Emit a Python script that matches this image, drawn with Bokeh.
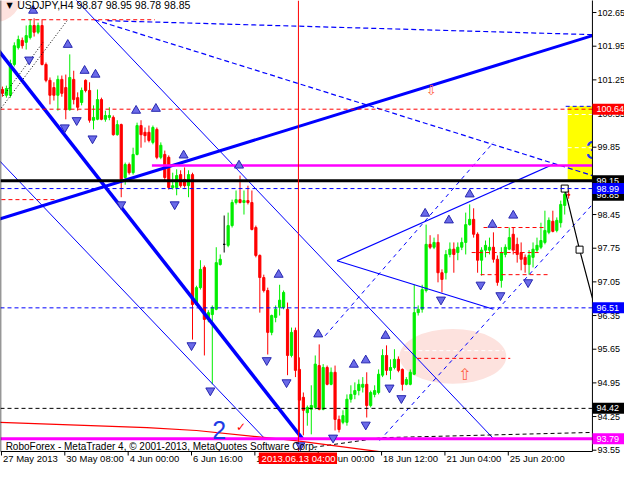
from bokeh.plotting import figure
from bokeh.models import Range1d
from bokeh.core.properties import value
from bokeh.embed import file_html
from bokeh.resources import INLINE

# ---------------- candle data (USDJPY H4) ----------------
opens = [101.05, 100.93, 100.93, 101.57, 101.92, 102.07, 102.03, 102.13, 102.38, 102.24,
         102.38, 101.57, 101.24, 101.09, 100.93, 101.26, 101.09, 100.63, 101.26, 100.88,
         100.78, 101.24, 101.03, 100.41, 100.43, 100.84, 100.43, 100.47, 100.47, 100.11,
         100.32, 99.22, 99.49, 99.32, 99.70, 100.30, 100.16, 100.16, 99.95, 100.22,
         99.64, 99.70, 99.64, 99.01, 99.01, 99.28, 99.18, 99.05, 99.28, 96.58,
         96.93, 97.35, 96.27, 96.37, 96.48, 97.41, 97.83, 97.81, 98.22, 98.70,
         98.76, 98.70, 98.74, 98.70, 98.18, 97.60, 97.14, 96.87, 96.00, 96.31,
         96.52, 96.52, 96.48, 95.52, 96.04, 95.23, 94.65, 94.33, 94.40, 94.44,
         95.31, 94.40, 95.27, 94.92, 95.17, 94.19, 94.13, 94.13, 94.61, 94.71,
         94.79, 94.86, 94.92, 94.48, 94.71, 94.75, 95.11, 95.52, 95.21, 95.27,
         95.44, 95.23, 94.92, 94.92, 95.13, 96.41, 96.48, 96.87, 97.83, 97.77,
         97.87, 97.24, 97.24, 97.62, 97.73, 97.66, 97.77, 97.87, 98.24, 98.35,
         98.04, 97.50, 97.71, 97.71, 97.77, 97.52, 97.08, 97.62, 97.73, 98.04,
         97.83, 97.66, 97.56, 97.41, 97.56, 97.71, 97.77, 97.87, 98.08, 98.31,
         98.12, 98.28, 98.64, 98.87]
highs = [101.11, 101.13, 101.67, 102.03, 102.17, 102.13, 102.38, 102.51, 102.53, 102.44,
         102.51, 101.61, 101.30, 101.20, 101.34, 101.34, 101.36, 101.78, 101.44, 100.99,
         101.09, 101.26, 101.20, 100.72, 101.05, 100.88, 100.61, 100.68, 100.51, 100.41,
         100.34, 99.53, 99.53, 99.84, 100.36, 100.41, 100.26, 100.30, 100.30, 100.26,
         99.95, 99.78, 99.68, 99.32, 99.39, 99.37, 99.43, 99.37, 99.32, 96.97,
         97.50, 97.39, 96.46, 96.56, 97.77, 97.62, 98.43, 98.49, 98.76, 98.95,
         99.26, 98.95, 99.05, 98.95, 98.22, 97.62, 97.20, 96.93, 96.37, 96.56,
         96.99, 96.87, 96.62, 96.10, 96.10, 95.48, 94.75, 94.48, 94.90, 95.52,
         95.75, 95.34, 95.31, 95.27, 95.31, 94.27, 94.38, 94.71, 94.90, 94.96,
         95.02, 95.07, 95.17, 94.79, 94.90, 95.23, 95.65, 95.73, 95.44, 95.65,
         95.50, 95.25, 95.07, 95.23, 96.99, 96.56, 96.99, 98.24, 98.02, 97.97,
         98.04, 97.31, 97.71, 97.87, 97.87, 97.87, 97.97, 98.49, 98.66, 98.58,
         98.08, 97.77, 97.91, 97.97, 98.08, 97.60, 97.77, 97.83, 98.18, 98.18,
         97.97, 97.87, 97.62, 97.71, 97.87, 97.97, 98.28, 98.53, 98.39, 98.53,
         98.39, 98.74, 99.01, 98.95]
lows = [100.90, 100.88, 100.88, 101.53, 101.88, 101.90, 101.88, 102.09, 102.15, 102.20,
        101.55, 101.20, 100.74, 100.82, 100.61, 100.90, 100.43, 100.61, 100.74, 100.61,
        100.72, 100.99, 100.36, 100.22, 100.41, 100.41, 100.38, 100.41, 100.09, 100.09,
        98.81, 99.07, 99.28, 99.28, 99.68, 99.84, 99.95, 99.95, 99.91, 99.60,
        99.60, 99.16, 98.97, 98.97, 98.85, 99.01, 99.01, 98.81, 95.85, 96.56,
        96.89, 95.52, 96.21, 94.92, 96.46, 97.39, 97.66, 97.77, 98.18, 98.66,
        98.68, 98.45, 98.66, 98.12, 97.56, 96.41, 96.83, 95.54, 95.94, 96.21,
        96.35, 96.48, 95.11, 95.48, 95.07, 93.92, 93.86, 94.06, 93.88, 94.40,
        94.38, 94.38, 94.90, 94.90, 93.96, 93.92, 94.09, 94.06, 94.54, 94.61,
        94.69, 94.75, 94.23, 94.44, 94.65, 94.71, 95.07, 95.11, 95.02, 95.23,
        95.17, 94.79, 94.90, 94.90, 95.11, 96.35, 96.41, 96.83, 97.73, 97.73,
        97.04, 96.83, 97.10, 97.56, 97.24, 97.50, 97.71, 97.62, 98.22, 97.97,
        97.24, 97.18, 97.56, 97.62, 97.45, 96.97, 96.93, 97.56, 97.71, 97.62,
        97.45, 97.29, 97.24, 97.20, 97.35, 97.66, 97.73, 97.83, 98.04, 98.08,
        98.08, 98.18, 98.45, 98.78]
closes = [100.97, 101.07, 101.59, 101.96, 102.09, 101.96, 102.17, 102.38, 102.24, 102.38,
          101.57, 101.24, 100.93, 100.93, 101.26, 100.97, 100.63, 101.30, 100.84, 100.68,
          101.03, 101.03, 100.41, 100.47, 100.84, 100.43, 100.51, 100.51, 100.11, 100.32,
          99.18, 99.49, 99.32, 99.70, 100.30, 100.11, 100.09, 99.99, 100.26, 99.64,
          99.89, 99.22, 99.01, 99.05, 99.26, 99.05, 99.05, 99.28, 96.58, 96.93,
          97.31, 96.27, 96.41, 96.52, 97.45, 97.52, 97.83, 98.22, 98.70, 98.76,
          98.70, 98.74, 98.70, 98.14, 97.60, 97.14, 96.87, 96.00, 96.35, 96.48,
          96.67, 96.83, 95.52, 96.00, 95.21, 94.59, 94.38, 94.44, 94.48, 95.34,
          94.40, 95.27, 94.92, 95.17, 94.19, 93.98, 94.27, 94.61, 94.71, 94.79,
          94.92, 94.92, 94.48, 94.75, 94.79, 95.13, 95.52, 95.21, 95.27, 95.44,
          95.21, 94.92, 95.02, 95.17, 96.41, 96.48, 96.89, 97.83, 97.77, 97.87,
          97.24, 97.10, 97.62, 97.73, 97.62, 97.77, 97.87, 98.24, 98.35, 98.04,
          97.50, 97.71, 97.81, 97.77, 97.52, 97.04, 97.66, 97.77, 97.97, 97.71,
          97.62, 97.52, 97.41, 97.60, 97.73, 97.81, 97.91, 98.12, 98.33, 98.10,
          98.33, 98.66, 98.87, 98.85]
bars = list(range(1, len(opens) + 1))

# ---------------- axes ----------------
price_ticks = [93.55, 94.25, 94.95, 95.65, 96.35, 97.05, 97.75, 98.45, 99.15,
               99.85, 100.55, 101.25, 101.95, 102.65]
time_ticks = [0.75, 16.75, 32.75, 48.75, 64.75, 80.75, 96.75, 112.75, 128.75]
time_labels = ["27 May 2013", "30 May 08:00", "4 Jun 00:00", "6 Jun 16:00", "10 Jun 08:00",
               "14 Jun 00:00", "18 Jun 12:00", "21 Jun 04:00", "25 Jun 20:00"]
cursor_bar = 75.75
cursor_label = "2013.06.13 04:00"

# ---------------- chart objects ----------------
level_prices = [100.64, 99.15, 98.99, 96.51, 94.42, 93.79]
level_colors = ["#ff0000", "#000000", "#0000ff", "#0000ff", "#000000", "#ff00ff"]
level_widths = [1, 3, 1, 1, 1, 3]
level_dashes = ["4 3", "solid", "4 3", "4 3", "4 3", "solid"]

short_x0 = [5.75, 0.75, 122.5, 119.5, 121.75, 105.75, 38.75, 143.25]
short_x1 = [39.5, 14.5, 138.25, 136.75, 139.25, 129.25, 151.0, 151.0]
short_y = [102.50, 98.76, 98.18, 97.66, 97.20, 95.46, 99.47, 100.70]
short_colors = ["#ff0000", "#ff0000", "#ff0000", "#ff0000", "#ff0000", "#ff0000", "#ff00ff", "#0000ff"]
short_widths = [1, 1, 1, 1, 1, 1, 2.5, 1]
short_dashes = ["4 3", "4 3", "4 3", "4 3", "4 3", "4 3", "solid", "4 3"]

white_x0 = [102.5, 143.75, 143.75]
white_x1 = [127.5, 151.0, 151.0]
white_y = [95.62, 100.53, 99.84]

trend_x0 = [0.0, 0.0, 17.75, 0.0, 24.25, 27.5, 85.5, 85.5, 82.5, 96.25, 0.75, 1.25]
trend_y0 = [101.86, 98.35, 103.07, 99.59, 102.50, 102.48, 97.49, 97.49, 95.93, 93.75, 100.67, 100.92]
trend_x1 = [76.75, 150.0, 125.25, 67.5, 150.0, 150.0, 140.0, 125.0, 125.0, 150.0, 17.5, 11.25]
trend_y1 = [93.79, 102.17, 93.77, 93.77, 99.26, 102.19, 99.49, 96.48, 99.95, 98.66, 102.50, 102.03]
trend_colors = ["#0000ff", "#0000ff", "#0000ff", "#0000ff", "#0000ff", "#0000ff",
                "#0000ff", "#0000ff", "#0000ff", "#0000ff", "#000000", "#000000"]
trend_widths = [3.5, 3, 1, 1, 1.2, 1.2, 1.2, 1.2, 1, 1, 1, 1]
trend_dashes = ["solid", "solid", "solid", "solid", "5 3", "5 3", "solid", "solid",
                "4 4", "4 4", "1 2", "1 2"]

arc_black_x = [79.5, 96.75, 150.0]
arc_black_y = [93.61, 93.81, 93.92]
arc_red_x = [0.0, 37.5, 50.0, 75.0, 100.0]
arc_red_y = [94.13, 94.02, 93.96, 93.75, 93.48]

forecast_x = [143.0, 146.75, 151.0]
forecast_y = [98.99, 97.72, 96.40]

up_fr_x = [8.75, 17.5, 21.75, 24.5, 34.75, 39.75, 46.75, 60.75, 70.75, 80.75, 89.75, 92.75,
           97.75, 107.75, 113.75, 119.0, 124.75, 130.0]
up_fr_y = [102.69, 101.98, 101.44, 101.36, 100.61, 100.65, 99.68, 99.47, 97.20, 95.96, 95.33, 95.42,
           95.93, 98.47, 98.33, 98.87, 98.24, 98.43]
dn_fr_x = [7.75, 16.75, 19.75, 23.75, 31.0, 44.5, 48.75, 53.5, 67.75, 72.75, 76.25, 84.5,
           92.75, 98.75, 101.75, 111.75, 121.75, 126.75, 133.75]
dn_fr_y = [101.67, 100.26, 100.41, 100.03, 98.66, 98.66, 95.73, 94.79, 95.42, 94.96, 93.65, 93.81,
           94.08, 94.85, 94.63, 96.68, 96.99, 96.77, 97.04]

ell_x = [114.75, -1.0]
ell_y = [95.50, 103.05]
ell_w = [27.0, 14.0]
ell_h = [1.14, 1.2]

box_left, box_right, box_bottom, box_top = [143.75], [151.0], [99.15], [100.70]

price_tags = [100.64, 98.85, 99.15, 98.99, 96.51, 94.42, 93.79]
price_tag_colors = ["#ff0000", "#000000", "#000000", "#0000ff", "#0000ff", "#000000", "#ff00ff"]

# ---------------- layout of the canvas (data units) ----------------
X0, X1 = 0.51, 158.1      # visible bar range incl. price-scale strip
Y0, Y1 = 93.253, 102.90   # visible price range incl. time-scale strip
AX_X = 150.0              # price scale line
AX_Y = 93.523             # time scale line
PX = 1.0 / 3.96           # one pixel in bar units
PY = 1.0 / 48.1           # one pixel in price units

FONT = "Liberation Sans"

p = figure(width=624, height=464, x_range=Range1d(X0, X1), y_range=Range1d(Y0, Y1),
           output_backend="svg", toolbar_location=None,
           x_axis_location=None, y_axis_location=None,
           min_border=0, background_fill_color="white", border_fill_color="white")
p.outline_line_color = None
p.grid.visible = False

# background fills
r = p.ellipse(x=ell_x, y=ell_y, width=ell_w, height=ell_h, fill_color="#fde2de", line_color=None)
r.level = "underlay"
r = p.quad(left=box_left, right=box_right, bottom=box_bottom, top=box_top,
           fill_color="#ffff00", line_color=None)
r.level = "underlay"
for x0, x1, y in zip(white_x0, white_x1, white_y):
    r = p.segment(x0=[x0], y0=[y], x1=[x1], y1=[y], line_color="white", line_dash="4 3", line_width=1)
    r.level = "underlay"

# candles
colors = ["#00ee00" if c > o else ("#ff0000" if c < o else "#000000") for o, c in zip(opens, closes)]
src = dict(x=bars, h=highs, l=lows,
           top=[max(o, c) for o, c in zip(opens, closes)],
           bottom=[min(o, c) for o, c in zip(opens, closes)],
           color=colors)
p.segment(x0="x", y0="l", x1="x", y1="h", line_color="color", line_width=1, source=src)
p.vbar(x="x", width=0.55, top="top", bottom="bottom", fill_color="color", line_color="color", source=src)

# trend lines and objects
for x0, y0, x1, y1, c, w, d in zip(trend_x0, trend_y0, trend_x1, trend_y1, trend_colors, trend_widths, trend_dashes):
    p.segment(x0=[x0], y0=[y0], x1=[x1], y1=[y1], line_color=c, line_width=w, line_dash=d)
for x0, x1, y, c, w, d in zip(short_x0, short_x1, short_y, short_colors, short_widths, short_dashes):
    p.segment(x0=[x0], y0=[y], x1=[x1], y1=[y], line_color=c, line_width=w, line_dash=d)
p.line(arc_black_x, arc_black_y, line_color="black", line_dash="4 3", line_width=1)
p.line(arc_red_x, arc_red_y, line_color="#ff0000", line_width=1.2)
p.line(forecast_x, forecast_y, line_color="black", line_width=1.2)
p.scatter(forecast_x[:2], forecast_y[:2], marker="square", size=7, fill_color="white", line_color="black")

for lv, c, w, d in zip(level_prices, level_colors, level_widths, level_dashes):
    p.segment(x0=[X0], y0=[lv], x1=[AX_X], y1=[lv], line_color=c, line_width=w, line_dash=d)
p.segment(x0=[cursor_bar], y0=[AX_Y], x1=[cursor_bar], y1=[Y1], line_color="#ff0000", line_width=1)

# fractals
p.scatter(up_fr_x, up_fr_y, marker="triangle", size=9, fill_color="#6a6ae8", line_color="#2828b0")
p.scatter(dn_fr_x, dn_fr_y, marker="inverted_triangle", size=9, fill_color="#6a6ae8", line_color="#2828b0")

# chart texts
p.text(x=[55.75], y=[93.98], text=["2"], text_font=value(FONT), text_font_size="25px",
       text_color="#1e3ce6", text_align="center", text_baseline="middle")
p.text(x=[148.3], y=[99.80], text=["3"], text_font=value(FONT), text_font_size="25px",
       text_color="#1e3ce6", text_align="left", text_baseline="middle")
p.text(x=[61.25], y=[94.03], text=["\u2713"], text_font=value("DejaVu Sans"), text_font_size="12px",
       text_color="#ff0000", text_align="center", text_baseline="middle")
p.text(x=[117.75], y=[95.12], text=["\u21e7"], text_font=value("DejaVu Sans"), text_font_size="16px",
       text_color="#ff6040", text_align="center", text_baseline="middle")
p.text(x=[109.25], y=[101.02], text=["\u21e9"], text_font=value("DejaVu Sans"), text_font_size="13px",
       text_color="#ff6040", text_align="center", text_baseline="middle")

# ---------------- scales (drawn on the same canvas) ----------------
p.quad(left=[AX_X], right=[X1 + 1], bottom=[Y0 - 1], top=[Y1 + 1], fill_color="white", line_color=None)
p.quad(left=[X0 - 1], right=[X1 + 1], bottom=[Y0 - 1], top=[AX_Y], fill_color="white", line_color=None)
p.segment(x0=[AX_X], y0=[AX_Y], x1=[AX_X], y1=[Y1 + 1], line_color="black", line_width=1)
p.segment(x0=[X0 + 0.05], y0=[AX_Y], x1=[X0 + 0.05], y1=[Y1 + 1], line_color="black", line_width=1)
p.segment(x0=[X0], y0=[AX_Y], x1=[AX_X], y1=[AX_Y], line_color="black", line_width=1)

p.segment(x0=[AX_X] * len(price_ticks), y0=price_ticks, x1=[AX_X + 4 * PX] * len(price_ticks),
          y1=price_ticks, line_color="black", line_width=1)
p.text(x=[AX_X + 5 * PX] * len(price_ticks), y=price_ticks, text=[f"{v:.2f}" for v in price_ticks],
       text_font=value(FONT), text_font_size="9px", text_color="black",
       text_align="left", text_baseline="middle")

p.segment(x0=time_ticks, y0=[AX_Y] * len(time_ticks), x1=time_ticks, y1=[AX_Y - 4 * PY] * len(time_ticks),
          line_color="black", line_width=1)
p.text(x=[t + 1.5 * PX for t in time_ticks], y=[AX_Y - 1.5 * PY] * len(time_ticks), text=time_labels,
       text_font=value(FONT), text_font_size="9.5px", text_color="black",
       text_align="left", text_baseline="top")

# price tags on the scale
for v, c in zip(price_tags, price_tag_colors):
    p.quad(left=[AX_X], right=[X1 + 1], bottom=[v - 5.5 * PY], top=[v + 5.5 * PY],
           fill_color=c, line_color=None)
    p.text(x=[AX_X + 4 * PX], y=[v], text=[f"{v:.2f}"], text_font=value(FONT), text_font_size="9px",
           text_color="white", text_align="left", text_baseline="middle")

# cursor time tag
p.quad(left=[cursor_bar - 10.0], right=[cursor_bar + 9.75], bottom=[Y0 - 1], top=[AX_Y - 1 * PY],
       fill_color="#ff0000", line_color=None)
p.text(x=[cursor_bar - 9.3], y=[AX_Y - 1.5 * PY], text=[cursor_label], text_font=value(FONT),
       text_font_size="9.5px", text_color="white", text_align="left", text_baseline="top")

# header and footer texts
p.text(x=[X0 + 1.5], y=[Y1 - 5 * PY], text=["\u25bc"], text_font=value("DejaVu Sans"),
       text_font_size="8px", text_color="black", text_align="left", text_baseline="middle")
p.text(x=[X0 + 4.2], y=[Y1 - 5 * PY], text=["USDJPY,H4  98.87 98.95 98.78 98.85"], text_font=value(FONT),
       text_font_size="10.5px", text_color="black", text_align="left", text_baseline="middle")
p.text(x=[X0 + 1.3], y=[AX_Y + 5 * PY],
       text=["RoboForex - MetaTrader 4, \u00a9 2001-2013, MetaQuotes Software Corp."],
       text_font=value(FONT), text_font_size="10px", text_color="black",
       text_align="left", text_baseline="middle")

open("out.html", "w").write(file_html(p, INLINE))
